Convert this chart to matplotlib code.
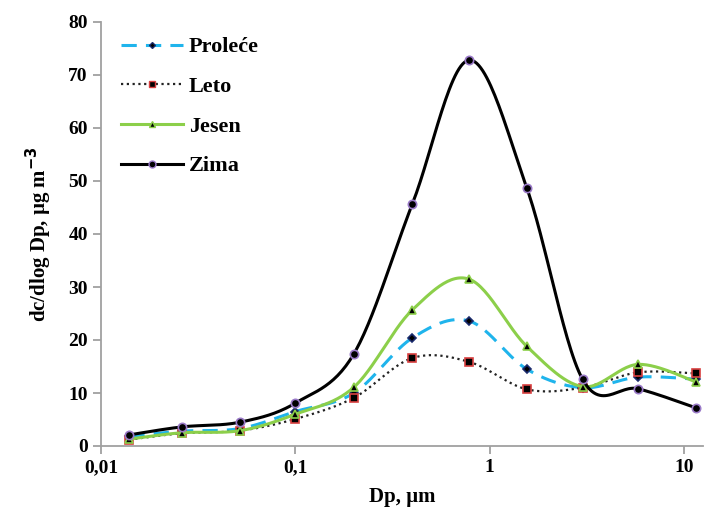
import numpy as np
import matplotlib.pyplot as plt
from matplotlib.ticker import FixedLocator, NullLocator

plt.rcParams['font.family'] = ['Liberation Serif', 'DejaVu Serif']
plt.rcParams['font.weight'] = 'bold'

# Dp, um
dp = [0.014, 0.026, 0.052, 0.1, 0.2, 0.4, 0.78, 1.55, 3.0, 5.8, 11.5]

proleca = [1.8, 2.8, 3.3, 6.5, 10.0, 20.4, 23.6, 14.5, 11.0, 13.0, 12.6]
leto = [1.2, 2.4, 2.9, 5.1, 9.1, 16.6, 15.9, 10.7, 11.0, 13.9, 13.7]
jesen = [1.3, 2.5, 2.9, 6.0, 11.1, 25.7, 31.5, 18.8, 11.2, 15.4, 12.1]
zima = [2.1, 3.6, 4.5, 8.1, 17.4, 45.7, 72.8, 48.7, 12.6, 10.8, 7.2]

series = ['Proleće', 'Leto', 'Jesen', 'Zima']


def smooth(x, y, n=30):
    # Catmull-Rom kao "smoothed line" u Excelu, u log prostoru
    u = np.log10(x)
    p = np.column_stack([u, y])
    p = np.vstack([p[0], p, p[-1]])
    out = []
    t = np.linspace(0, 1, n)
    for i in range(1, len(p) - 2):
        p0, p1, p2, p3 = p[i - 1], p[i], p[i + 1], p[i + 2]
        c1 = p1 + (p2 - p0) / 6
        c2 = p2 - (p3 - p1) / 6
        seg = ((1 - t) ** 3)[:, None] * p1 + (3 * (1 - t) ** 2 * t)[:, None] * c1 \
            + (3 * (1 - t) * t ** 2)[:, None] * c2 + (t ** 3)[:, None] * p2
        out.append(seg)
    out = np.vstack(out)
    return 10 ** out[:, 0], out[:, 1]


fig = plt.figure(figsize=(7.05, 5.24), dpi=100)
ax = fig.add_axes([101 / 705, 78 / 524, 602 / 705, 424 / 524])

styles = [
    dict(color='#1fb4ec', ls=(0, (5, 3)), lw=2.2, marker='D', ms=4, mfc='black', mec='#1a2a6c'),
    dict(color='#222222', ls=(0, (1, 1.6)), lw=1.6, marker='s', ms=6, mfc='black', mec='#d84040'),
    dict(color='#8ccf4a', ls='-', lw=2.2, marker='^', ms=6, mfc='black', mec='#8ccf4a'),
    dict(color='black', ls='-', lw=2.2, marker='o', ms=6, mfc='black', mec='#9a7ac8'),
]

for name, vals, st in zip(series, [proleca, leto, jesen, zima], styles):
    sx, sy = smooth(dp, vals)
    ax.plot(sx, sy, color=st['color'], ls=st['ls'], lw=st['lw'])
    ax.plot(dp, vals, ls='none', marker=st['marker'], ms=st['ms'],
            mfc=st['mfc'], mec=st['mec'], mew=1.2)
    ax.plot([], [], color=st['color'], ls=st['ls'], lw=st['lw'], marker=st['marker'],
            ms=st['ms'] - 1, mfc=st['mfc'], mec=st['mec'], label=name)

ax.set_xscale('log')
ax.set_xlim(0.01, 12.5)
ax.set_ylim(0, 80)
ax.xaxis.set_major_locator(FixedLocator([0.01, 0.1, 1, 10]))
ax.xaxis.set_minor_locator(NullLocator())
ax.set_xticklabels(['0,01', '0,1', '1', '10'])
ax.set_yticks(range(0, 81, 10))

for s in ['top', 'right']:
    ax.spines[s].set_visible(False)
for s in ['left', 'bottom']:
    ax.spines[s].set_color('#a0a0a0')
    ax.spines[s].set_linewidth(1.3)
ax.tick_params(axis='both', colors='#a0a0a0', length=6, width=1.3, labelsize=14,
               labelcolor='black')

ax.set_xlabel('Dp, µm', fontsize=15, fontweight='bold', labelpad=8)
ax.set_ylabel('dc/dlog Dp, µg m$^{\\mathbf{-3}}$', fontsize=15, fontweight='bold', labelpad=10)

ax.legend(loc='upper left', frameon=False, fontsize=16, handlelength=2.8,
          handletextpad=0.25, bbox_to_anchor=(0.0, 1.012), labelspacing=0.86)

fig.savefig('out.png', dpi=100)
